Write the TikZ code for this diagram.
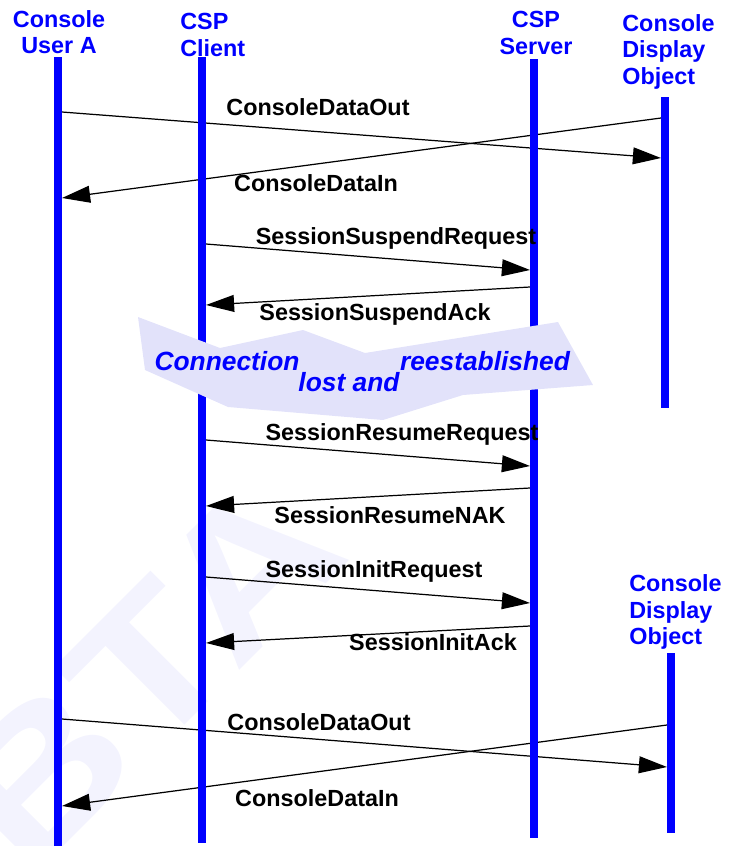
\documentclass[tikz,border=0pt]{standalone}
\usepackage{fontspec}
\setmainfont{Liberation Sans}
\usetikzlibrary{arrows.meta}
\definecolor{lifeblue}{RGB}{0,0,255}
\definecolor{bandfill}{RGB}{226,226,250}
\definecolor{wmarkgray}{RGB}{243,243,254}
\tikzset{
  lifeline/.style={line width=4.5pt, lifeblue},
  msg/.style={line width=0.7pt, -{Triangle[length=16pt,width=9.6pt]}},
  msglabel/.style={font=\fontsize{13.3}{15}\selectfont\bfseries, inner sep=0pt, anchor=base},
  actor/.style={font=\fontsize{13.3}{15.2}\selectfont\bfseries, text=lifeblue, inner sep=0pt},
  bandtext/.style={font=\fontsize{15}{18}\selectfont\bfseries\itshape, text=lifeblue, inner sep=0pt, anchor=base},
  watermark/.style={font=\fontsize{110}{110}\selectfont\bfseries, text=wmarkgray, inner sep=0pt}
}

\begin{document}
\begin{tikzpicture}[x=0.02cm, y=-0.02cm]
\useasboundingbox (0,0) rectangle (728,846);
% watermark
\node[watermark, rotate=45] (beta) at (144,672) {\scalebox{1.2}[1]{BTA}};
% headers
\node[actor, align=center, anchor=north] (userA) at (59,10) {Console\\User A};
\node[actor, align=left, anchor=north west] (client) at (180,13) {CSP\\Client};
\node[actor, align=center, anchor=north] (server) at (536,11) {CSP\\Server};
\node[actor, align=left, anchor=north west] (display) at (622,14) {Console\\Display\\Object};
\node[actor, align=left, anchor=north west] (display2) at (629,574) {Console\\Display\\Object};
% message end points
\coordinate (a1) at (62,112);  \coordinate (d1) at (661,158);
\coordinate (d2) at (661,118); \coordinate (a2) at (62,198);
\coordinate (c3) at (206,244); \coordinate (s3) at (530,270);
\coordinate (s4) at (530,287); \coordinate (c4) at (206,305);
\coordinate (c5) at (206,440); \coordinate (s5) at (530,466);
\coordinate (s6) at (530,488); \coordinate (c6) at (206,506);
\coordinate (c7) at (206,577); \coordinate (s7) at (530,603);
\coordinate (s8) at (530,626); \coordinate (c8) at (206,643);
\coordinate (a9) at (62,719);  \coordinate (e9) at (667,767);
\coordinate (e10) at (667,725); \coordinate (a10) at (62,806);
% messages
\draw[msg] (a1) -- (d1);
\draw[msg] (d2) -- (a2);
\draw[msg] (c3) -- (s3);
\draw[msg] (s4) -- (c4);
\draw[msg] (c5) -- (s5);
\draw[msg] (s6) -- (c6);
\draw[msg] (c7) -- (s7);
\draw[msg] (s8) -- (c8);
\draw[msg] (a9) -- (e9);
\draw[msg] (e10) -- (a10);
% lifelines
\draw[lifeline] (58,57) -- (58,846);
\draw[lifeline] (202,57) -- (202,843);
\draw[lifeline] (534,59) -- (534,838);
\draw[lifeline] (665,97) -- (665,408);
\draw[lifeline] (671,653) -- (671,833);
% message names
\node[msglabel] (dataout1) at (318,115) {ConsoleDataOut};
\node[msglabel] (datain1) at (316,191) {ConsoleDataIn};
\node[msglabel] (suspreq) at (396,244) {SessionSuspendRequest};
\node[msglabel] (suspack) at (375,320) {SessionSuspendAck};
\node[msglabel] (resreq) at (402,440) {SessionResumeRequest};
\node[msglabel] (resnak) at (390,523) {SessionResumeNAK};
\node[msglabel] (initreq) at (374,577) {SessionInitRequest};
\node[msglabel] (initack) at (433,650) {SessionInitAck};
\node[msglabel] (dataout2) at (319,730) {ConsoleDataOut};
\node[msglabel] (datain2) at (317,806) {ConsoleDataIn};
% lost connection band
\fill[bandfill] (138,317) -- (220,348) -- (303,330) -- (365,353) -- (558,322)
  -- (593,385) -- (463,395) -- (383,420) -- (228,407) -- (145,370) -- cycle;
\node[bandtext] (conn) at (227,370) {Connection};
\node[bandtext] (lost) at (349,391) {lost and};
\node[bandtext] (reest) at (485,370) {reestablished};
\end{tikzpicture}
\end{document}
